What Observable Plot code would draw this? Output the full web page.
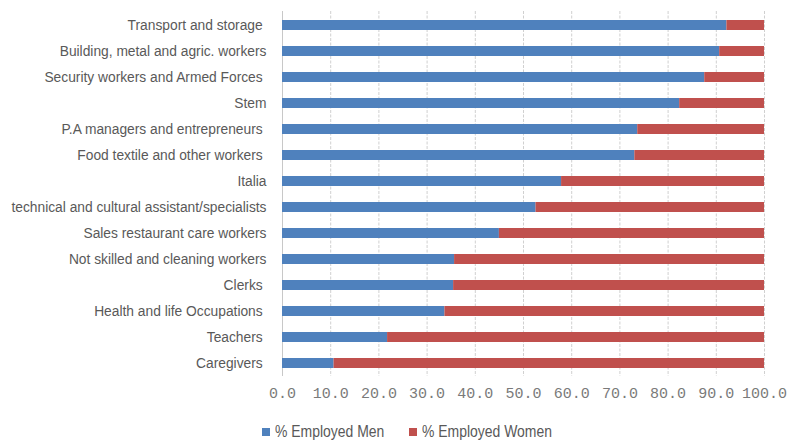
<!DOCTYPE html>
<html>
<head>
<meta charset="utf-8">
<script src="https://cdn.jsdelivr.net/npm/d3@7"></script>
<script src="https://cdn.jsdelivr.net/npm/@observablehq/plot@0.6"></script>
<style>
  html, body { margin: 0; padding: 0; background: #fff; }
  #wrap { position: relative; width: 791px; height: 441px; }
  #legend { position: absolute; left: 262px; top: 422px; display: flex; align-items: center;
    font-family: "Liberation Sans", Arial, sans-serif; font-size: 17px; color: #595959; }
  .item { display: flex; align-items: center; }
  .sw { width: 8px; height: 8px; margin-right: 5px; flex: none; }
  .lt { display: inline-block; transform: scaleX(0.82); transform-origin: left center; white-space: nowrap; }
  .ylab text { white-space: pre; }
</style>
</head>
<body>
<div id="wrap">
  <div id="chart"></div>
  <div id="legend"></div>
</div>
<script>
const categories = [
  "Transport and storage ",
  "Building, metal and agric. workers",
  "Security workers and Armed Forces ",
  "Stem",
  "P.A managers and entrepreneurs ",
  "Food textile and other workers ",
  "Italia",
  "technical and cultural assistant/specialists",
  "Sales restaurant care workers",
  "Not skilled and cleaning workers",
  "Clerks ",
  "Health and life Occupations ",
  "Teachers ",
  "Caregivers "
];
const menPct   = [92.2, 90.7, 87.6, 82.4, 73.7, 73.1, 57.9, 52.6, 45.0, 35.7, 35.5, 33.7, 21.8, 10.7];
const womenPct = [ 7.8,  9.3, 12.4, 17.6, 26.3, 26.9, 42.1, 47.4, 55.0, 64.3, 64.5, 66.3, 78.2, 89.3];
const seriesNames = ["% Employed Men", "% Employed Women"];
const seriesColors = ["#4F81BD", "#C0504D"];
const xTicks = [0, 10, 20, 30, 40, 50, 60, 70, 80, 90, 100];

const data = [];
categories.forEach((c, i) => data.push({cat: c, series: seriesNames[0], value: menPct[i]}));
categories.forEach((c, i) => data.push({cat: c, series: seriesNames[1], value: womenPct[i]}));

const chart = Plot.plot({
  width: 791,
  height: 412,
  marginLeft: 282,
  marginRight: 27,
  marginTop: 11,
  marginBottom: 36,
  style: {background: "#fff"},
  x: {domain: [0, 100], label: null},
  y: {domain: categories, paddingInner: 0.62, paddingOuter: 0.31, label: null},
  color: {domain: seriesNames, range: seriesColors},
  marks: [
    Plot.ruleX(xTicks.slice(1), {stroke: "#d0d0d0", strokeDasharray: "3,1.5", strokeWidth: 1}),
    Plot.ruleX([0], {stroke: "#c8c8c8", strokeWidth: 1}),
    Plot.barX(data, {x: "value", y: "cat", fill: "series", order: seriesNames}),
    Plot.axisX({ticks: xTicks, tickFormat: d => d.toFixed(1), tickSize: 0, tickPadding: 11,
      fontFamily: '"Liberation Mono", "DejaVu Sans Mono", monospace', fontSize: 15, fill: "#7a7a7a", label: null}),
    Plot.axisY({tickSize: 0, tickPadding: 16, fontFamily: '"Liberation Sans", Arial, sans-serif', fontSize: 15.5, fill: "#595959",
      label: null, className: "ylab"})
  ]
});
// condense the category labels horizontally (Arial Narrow look), keeping them right-aligned
chart.querySelectorAll(".ylab text").forEach(t => {
  const tr = t.getAttribute("transform") || "";
  t.setAttribute("transform", tr + " scale(0.89,1)");
});
document.getElementById("chart").appendChild(chart);

const legend = document.getElementById("legend");
seriesNames.forEach((s, i) => {
  const it = document.createElement("div");
  it.className = "item";
  const sw = document.createElement("div");
  sw.className = "sw";
  sw.style.background = seriesColors[i];
  const tx = document.createElement("span");
  tx.className = "lt";
  tx.textContent = s;
  it.appendChild(sw); it.appendChild(tx);
  legend.appendChild(it);
});
const items = legend.querySelectorAll(".item");
const firstText = items[0].querySelector(".lt");
const w = firstText.getBoundingClientRect().width;
items[0].style.width = (8 + 5 + w + 25) + "px";
</script>
</body>
</html>
